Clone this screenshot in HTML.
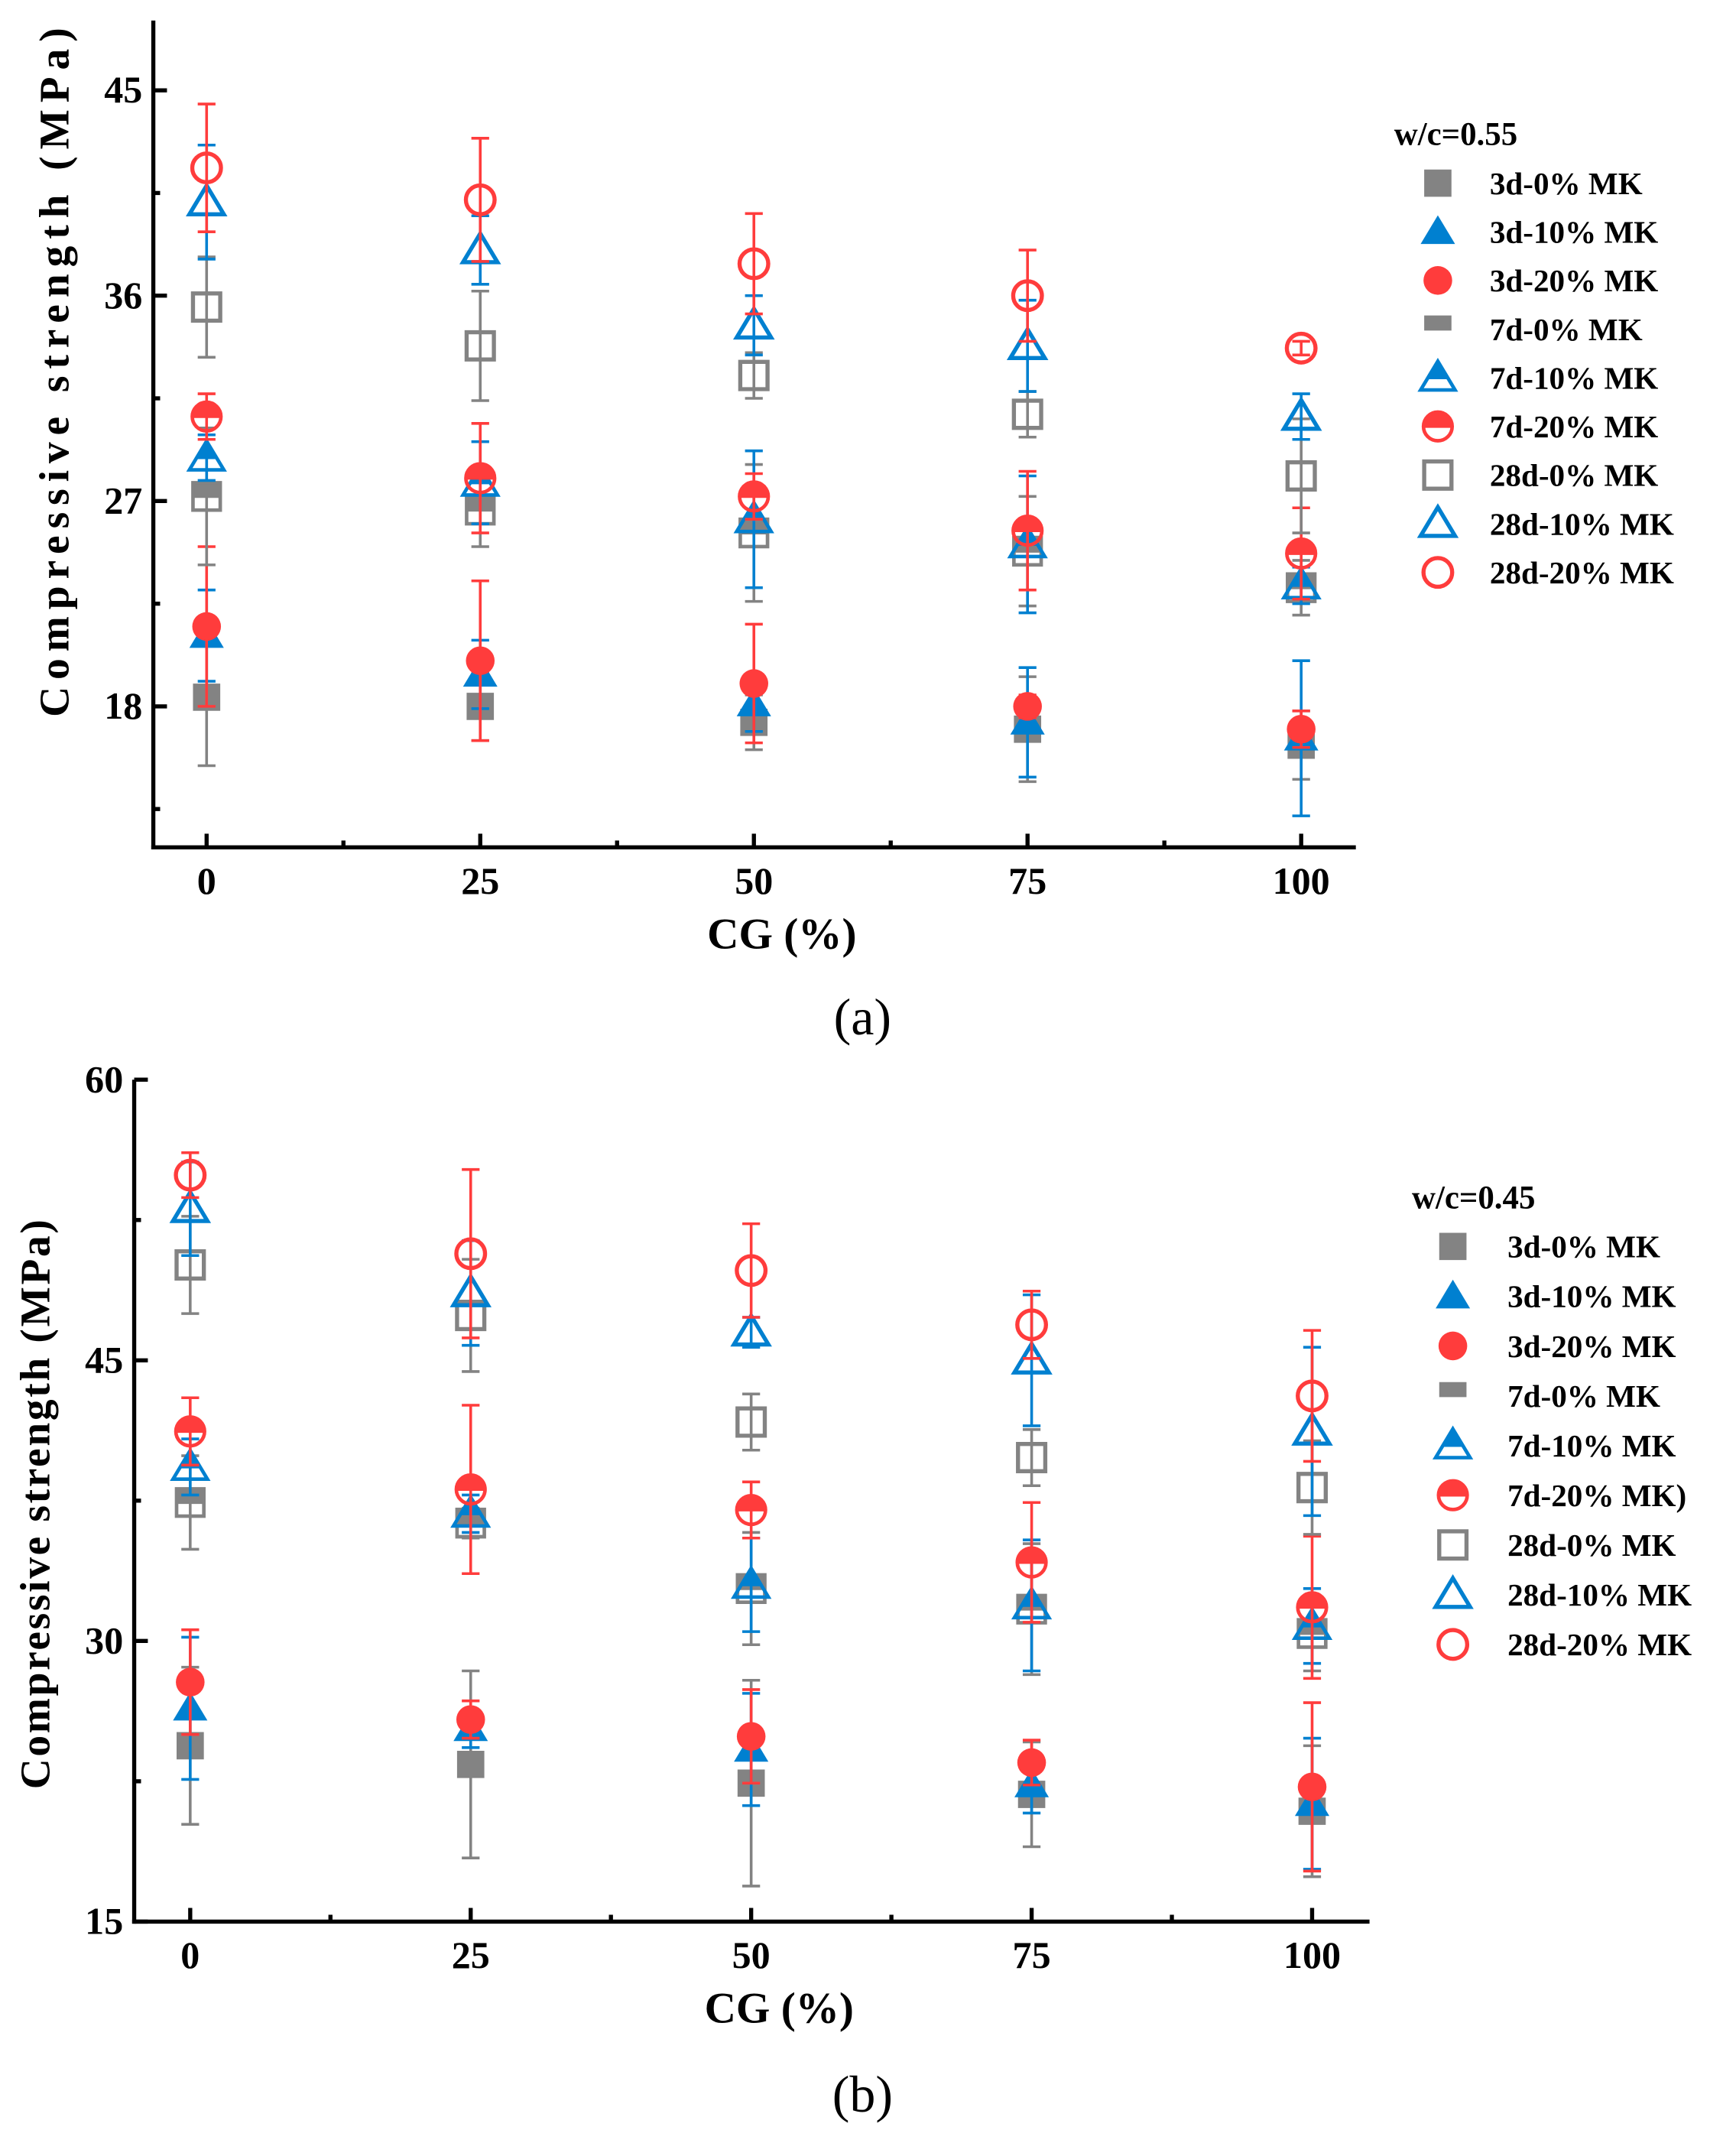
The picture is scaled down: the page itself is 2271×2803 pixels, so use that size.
<!DOCTYPE html>
<html><head><meta charset="utf-8"><style>
html,body{margin:0;padding:0;background:#fff}
svg{display:block}
text{font-family:"Liberation Serif",serif}
</style></head><body>
<svg id="chart" width="2271" height="2803" viewBox="0 0 1270 1568" xmlns="http://www.w3.org/2000/svg"></svg>
<script>
const categories=[0,25,50,75,100];
const seriesNames=["3d-0% MK","3d-10% MK","3d-20% MK","7d-0% MK","7d-10% MK","7d-20% MK","28d-0% MK","28d-10% MK","28d-20% MK"];
const seriesNamesB=["3d-0% MK","3d-10% MK","3d-20% MK","7d-0% MK","7d-10% MK","7d-20% MK)","28d-0% MK","28d-10% MK","28d-20% MK"];
// panel a (w/c=0.55)
const a3d0=[18.4,18.0,17.3,17.0,16.3];
const a3d10=[21.1,19.4,18.1,17.3,16.6];
const a3d20=[21.5,20.0,19.0,18.0,17.0];
const a7d0=[27.2,26.6,25.6,24.8,23.2];
const a7d10=[28.9,27.8,26.2,25.1,23.3];
const a7d20=[30.7,28.0,27.2,25.7,24.7];
const a28d0=[35.5,33.8,32.5,30.8,28.1];
const a28d10=[40.1,38.0,34.7,33.8,30.7];
const a28d20=[41.6,40.2,37.4,36.0,33.7];
const aErr3d0=[3.0,1.5,1.2,2.3,1.5];
const aErr3d10=[2.0,1.5,1.2,2.4,3.4];
const aErr3d20=[3.5,3.5,2.6,0.5,0.8];
const aErr7d0=[3.0,1.6,3.0,2.4,1.2];
const aErr7d10=[1.0,1.8,3.0,3.0,0.8];
const aErr7d20=[1.0,2.4,1.0,2.6,2.0];
const aErr28d0=[2.2,2.4,1.0,1.0,2.5];
const aErr28d10=[2.5,1.5,1.3,2.0,1.0];
const aErr28d20=[2.8,2.7,2.2,2.0,0.3];
// panel b (w/c=0.45)
const b3d0=[24.4,23.4,22.4,21.8,20.9];
const b3d10=[26.4,25.3,24.2,22.3,21.3];
const b3d20=[27.8,25.8,24.9,23.5,22.2];
const b7d0=[37.4,36.3,32.8,31.7,30.4];
const b7d10=[39.3,36.8,33.0,31.9,30.8];
const b7d20=[41.2,38.1,37.0,34.2,31.8];
const b28d0=[50.1,47.4,41.7,39.8,38.2];
const b28d10=[53.1,48.6,46.5,45.0,41.2];
const b28d20=[54.9,50.7,49.8,46.9,43.1];
const bErr3d0=[4.2,5.0,5.5,2.8,3.5];
const bErr3d10=[3.8,1.0,3.0,1.5,3.5];
const bErr3d20=[2.8,1.0,2.5,1.2,4.5];
const bErr7d0=[2.5,0.8,3.0,3.5,2.0];
const bErr7d10=[1.5,1.0,2.5,3.5,2.0];
const bErr7d20=[1.8,4.5,1.5,3.2,3.8];
const bErr28d0=[2.6,3.0,1.5,1.5,2.5];
const bErr28d10=[2.5,2.8,0.8,3.5,4.5];
const bErr28d20=[1.2,4.5,2.5,1.8,3.5];
const aTicks=[18,27,36,45];
const bTicks=[15,30,45,60];
const xTickLabels=["0","25","50","75","100"];

const NS="http://www.w3.org/2000/svg";
const svg=document.getElementById('chart');
const GRAY="#838383",BLUE="#0080D0",RED="#FF3C3C";
const colors=[GRAY,BLUE,RED,GRAY,BLUE,RED,GRAY,BLUE,RED];
const shapes=["sq","tri","cir","sq","tri","cir","sq","tri","cir"];
const fills=["full","full","full","half","half","half","open","open","open"];
function mk(tag,attrs,parent){const e=document.createElementNS(NS,tag);for(const k in attrs)e.setAttribute(k,attrs[k]);(parent||svg).appendChild(e);return e;}
let clipId=0;
function marker(g,x,y,shape,color,fill,r,legend){
  const grp=mk('g',{},g);
  let d;
  if(shape==='sq')d=`M${x-r*0.95},${y-r*0.95}h${r*1.9}v${r*1.9}h${-r*1.9}z`;
  else if(shape==='tri')d=`M${x},${y-r*1.15}L${x+r*1.2},${y+r*0.85}L${x-r*1.2},${y+r*0.85}z`;
  else d=`M${x-r},${y}a${r},${r} 0 1,0 ${2*r},0a${r},${r} 0 1,0 ${-2*r},0z`;
  if(fill==='full'){mk('path',{d,fill:color},grp);}
  else if(fill==='open'){mk('path',{d,fill:'none',stroke:color,'stroke-width':3},grp);}
  else{
    const id='c'+(clipId++);
    const cp=mk('clipPath',{id},grp);
    mk('rect',{x:x-r*2,y:y-r*2,width:r*4,height:r*2.1},cp);
    mk('path',{d,fill:color,'clip-path':`url(#${id})`},grp);
    if(!(shape==='sq'&&legend))mk('path',{d,fill:'none',stroke:color,'stroke-width':2.6},grp);
  }
  return grp;
}
function panel(cfg){
  const g=mk('g',{});
  
  
  const xs=v=>cfg.x0+(v-0)/100*(cfg.x100-cfg.x0);
  const ys=v=>cfg.bottom-(v-cfg.ymin)/(cfg.ymax-cfg.ymin)*(cfg.bottom-cfg.top);
  cfg.data.forEach((vals,si)=>{
    const sg=mk('g',{},g);
    
    
    vals.forEach((v,i)=>{
      const x=xs(categories[i]),y=ys(v),e=cfg.errs[si][i];
      const y1=ys(v+e),y2=ys(v-e);
      mk('line',{x1:x,x2:x,y1:y1,y2:y2,stroke:colors[si],'stroke-width':2},sg);
      mk('line',{x1:x-6.5,x2:x+6.5,y1:y1,y2:y1,stroke:colors[si],'stroke-width':2},sg);
      mk('line',{x1:x-6.5,x2:x+6.5,y1:y2,y2:y2,stroke:colors[si],'stroke-width':2},sg);
      const m=marker(sg,x,y,shapes[si],colors[si],fills[si],10.5,false);
      
      
    });
  });
  const ax=mk('g',{},g);
  
  
  mk('line',{x1:cfg.left,x2:cfg.left,y1:cfg.top,y2:cfg.bottom+1.5,stroke:'#000','stroke-width':3},ax);
  mk('line',{x1:cfg.left-1.5,x2:cfg.right,y1:cfg.bottom,y2:cfg.bottom,stroke:'#000','stroke-width':3},ax);
  const step=cfg.ticks[1]-cfg.ticks[0];
  for(let v=cfg.ticks[0]-step*2;v<=cfg.ymax;v+=step/2){
    if(v<cfg.ymin)continue;
    const y=ys(v),major=cfg.ticks.includes(v);
    mk('line',{x1:cfg.left,x2:cfg.left+(major?10:5),y1:y,y2:y,stroke:'#000','stroke-width':3},ax);
  }
  cfg.ticks.forEach(v=>{
    const t=mk('text',{x:cfg.left-8,y:ys(v)+9,'text-anchor':'end','font-size':28,'font-weight':'bold'},ax);
    t.textContent=v;
    
    
  });
  for(let v=0;v<=100;v+=12.5){
    const x=xs(v),major=(v%25===0);
    mk('line',{x1:x,x2:x,y1:cfg.bottom,y2:cfg.bottom-(major?10:5),stroke:'#000','stroke-width':3},ax);
  }
  categories.forEach((c,i)=>{
    const t=mk('text',{x:xs(c),y:cfg.bottom+34,'text-anchor':'middle','font-size':28,'font-weight':'bold'},ax);
    t.textContent=xTickLabels[i];
    
    
  });
  const xt=mk('text',{x:(cfg.left+cfg.right)/2+20,y:cfg.bottom+74,'text-anchor':'middle','font-size':32,'font-weight':'bold'},g);
  xt.textContent='CG (%)';
  
  
  const yt=mk('text',{x:0,y:0,'text-anchor':'middle','font-size':31,'font-weight':'bold','letter-spacing':cfg.yls,transform:`translate(${cfg.ytx},${cfg.yty}) rotate(-90)`},g);
  yt.textContent='Compressive strength (MPa)';
  
  
  const lab=mk('text',{x:cfg.labx,y:cfg.laby,'text-anchor':'middle','font-size':38},g);
  lab.textContent=cfg.label;
  
  
  const lg=mk('g',{},g);
  
  
  const lt=mk('text',{x:cfg.legX,y:cfg.legY,'font-size':24,'font-weight':'bold'},lg);
  lt.textContent=cfg.legTitle;
  
  
  cfg.names.forEach((n,i)=>{
    const y=cfg.legY+36+i*cfg.legStep;
    const eg=mk('g',{},lg);
    
    
    marker(eg,cfg.legMX,y-8,shapes[i],colors[i],fills[i],10.5,true);
    const t=mk('text',{x:cfg.legTX,y:y,'font-size':23,'font-weight':'bold'},eg);
    t.textContent=n;
  });
}
panel({name:'panel-a',x0:151,x100:952,left:112,right:992,top:15,bottom:620,ymin:11.82,ymax:48.06,ticks:aTicks,
  data:[a3d0,a3d10,a3d20,a7d0,a7d10,a7d20,a28d0,a28d10,a28d20],
  errs:[aErr3d0,aErr3d10,aErr3d20,aErr7d0,aErr7d10,aErr7d20,aErr28d0,aErr28d10,aErr28d20],
  names:seriesNames,ytx:50,yty:270,yls:5,labx:631,laby:757,label:'(a)',
  legTitle:'w/c=0.55',legX:1020,legY:106,legStep:35.6,legMX:1052,legTX:1090});
panel({name:'panel-b',x0:139,x100:960,left:98,right:1002,top:790,bottom:1406,ymin:15,ymax:60,ticks:bTicks,
  data:[b3d0,b3d10,b3d20,b7d0,b7d10,b7d20,b28d0,b28d10,b28d20],
  errs:[bErr3d0,bErr3d10,bErr3d20,bErr7d0,bErr7d10,bErr7d20,bErr28d0,bErr28d10,bErr28d20],
  names:seriesNamesB,ytx:36,yty:1100,yls:1.5,labx:631,laby:1545,label:'(b)',
  legTitle:'w/c=0.45',legX:1033,legY:884,legStep:36.4,legMX:1063,legTX:1103});
</script>
</body></html>
